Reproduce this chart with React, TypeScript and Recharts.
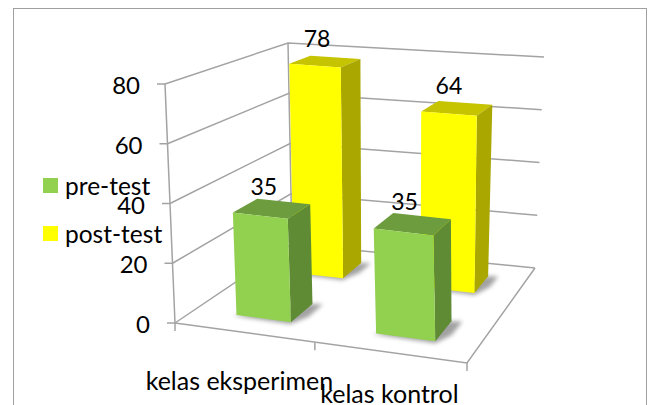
import React from "react";
import { BarChart, Bar, XAxis, YAxis, CartesianGrid, Legend, LabelList } from "recharts";

const categories = ["kelas eksperimen", "kelas kontrol"];
const preTest = [35, 35];
const postTest = [78, 64];
const valueTicks = [0, 20, 40, 60, 80];

const chartData = categories.map((name, i) => ({ name, pre: preTest[i], post: postTest[i] }));

const WIDTH = 648;
const HEIGHT = 405;
const MARGIN = 20;
const PLOT_H = HEIGHT - MARGIN * 2;
const BAR_W = WIDTH * 0.2;
const BAR_SHIFT = 0.008; // bars sit slightly right of the band centre
const FONT = "Lato, Carlito, sans-serif";

// corners of the 3D box on screen: front/back, left/right, floor/ceiling
const box = {
  floor: { fl: [175, 323], fr: [467, 363], bl: [292, 244], br: [535, 268] },
  top: { fl: [165, 84], fr: [461, 113], bl: [288, 43], br: [544, 57] },
};

const lerp = (a: number, b: number, t: number) => a + (b - a) * t;

// u = along the categories, v = depth, h = share of the value axis
const project = (uFlat: number, v: number, h: number): [number, number] => {
  // foreshortening: the left half of the floor looks shorter than the right
  const u = uFlat - 0.084 * uFlat * (1 - uFlat);
  const at = (k: 0 | 1) => {
    const lo = lerp(lerp(box.floor.fl[k], box.floor.fr[k], u), lerp(box.floor.bl[k], box.floor.br[k], u), v);
    const hi = lerp(lerp(box.top.fl[k], box.top.fr[k], u), lerp(box.top.bl[k], box.top.br[k], u), v);
    return lerp(lo, hi, h);
  };
  return [at(0), at(1)];
};

const toU = (px: number) => px / WIDTH;
const toH = (py: number) => (HEIGHT - MARGIN - py) / PLOT_H;
const pts = (list: [number, number][]) => list.map((p) => p.join(",")).join(" ");

// flat bar from the chart scales -> box with faces in the projection
const Bar3D = (props: any) => {
  const { x, y, width, height, near, far, front, side, top } = props;
  const u0 = toU(x) + BAR_SHIFT;
  const u1 = toU(x + width) + BAR_SHIFT;
  const h = toH(y);
  const h0 = toH(y + height);
  const shadow: [number, number][] = [
    project(u0 - 0.01, near - 0.01, h0),
    project(u1 + 0.005, near - 0.02, h0),
    project(u1 + 0.035, near + 0.08, h0),
    project(u1 + 0.035, far + 0.01, h0),
    project(u1, far, h0),
    project(u0, near, h0),
  ];
  return (
    <g>
      <polygon points={pts(shadow)} fill="#555" opacity={0.55} style={{ filter: "blur(2px)" }} />
      <polygon points={pts([project(u0, near, h), project(u1, near, h), project(u1, far, h), project(u0, far, h)])} fill={top} />
      <polygon points={pts([project(u1, near, h0), project(u1, far, h0), project(u1, far, h), project(u1, near, h)])} fill={side} />
      <polygon points={pts([project(u0, near, h0), project(u1, near, h0), project(u1, near, h), project(u0, near, h)])} fill={front} />
    </g>
  );
};

const valueLabel = (near: number, far: number) => (props: any) => {
  const { x, y, width, value } = props;
  const [cx, cy] = project(toU(x + width / 2) + BAR_SHIFT, (near + far) / 2, toH(y));
  return (
    <text x={cx - 8} y={cy - 14} textAnchor="middle" fontSize={23} fontFamily={FONT} fill="#000">
      {value}
    </text>
  );
};

const GRID = "#a3a3a3";

// each horizontal grid line runs along the left wall and then along the back wall
const gridLine = (props: any) => {
  const h = toH(props.y1);
  const a = project(0, 0, h);
  const b = project(0, 1, h);
  const c = project(1, 1, h);
  return (
    <g key={props.key ?? props.index} fill="none" stroke={GRID} strokeWidth={1.5}>
      <polyline points={pts([a, b, c])} />
      <line x1={a[0] - 8} y1={a[1]} x2={a[0]} y2={a[1]} />
      {h < 0.01 && (
        <>
          <polyline points={pts([project(0, 0, 0), project(1, 0, 0), project(1, 1, 0)])} />
          <polyline points={pts([project(0, 0, 0), project(0, 0, 1)])} />
          <polyline points={pts([project(0, 1, 0), project(0, 1, 1)])} />
          {[0, 0.5, 1].map((u) => {
            const p = project(u, 0, 0);
            return <line key={u} x1={p[0]} y1={p[1]} x2={p[0]} y2={p[1] + 8} />;
          })}
        </>
      )}
    </g>
  );
};

const yTick = (props: any) => {
  const [px, py] = project(0, 0, toH(props.y));
  return (
    <text x={px - 25} y={py + 10} textAnchor="end" fontSize={24} fontFamily={FONT} fill="#000">
      {props.payload.value}
    </text>
  );
};

// Excel staggered these two labels because they did not fit
const labelShift = [
  [-4, 58],
  [0, 51],
];

const xTick = (props: any) => {
  const [px, py] = project(toU(props.x), 0, 0);
  const [dx, dy] = labelShift[props.index] ?? [0, 0];
  return (
    <text x={px + dx} y={py + dy} textAnchor="middle" fontSize={25} fontFamily={FONT} fill="#000">
      {props.payload.value}
    </text>
  );
};

const renderLegend = (props: any) => {
  const items = [...(props.payload ?? [])].reverse();
  return (
    <div style={{ fontFamily: FONT, fontSize: 24.5, color: "#000" }}>
      {items.map((it: any) => (
        <div key={it.value} style={{ display: "flex", alignItems: "center", height: 48 }}>
          <span style={{ width: 15, height: 15, background: it.color, marginRight: 7 }} />
          {it.value}
        </div>
      ))}
    </div>
  );
};

const PRE_DEPTH = { near: 0.17, far: 0.385 };
const POST_DEPTH = { near: 0.69, far: 0.87 };

export default function App() {
  return (
    <div style={{ position: "absolute", left: 0, top: 0, width: WIDTH, height: HEIGHT, overflow: "hidden", background: "#fff" }}>
      <div style={{ position: "absolute", left: 15, top: -29, fontFamily: "'Liberation Serif', serif", fontSize: 30, lineHeight: "36px", color: "#000", whiteSpace: "nowrap" }}>
        dibawah ini.
      </div>
      <div style={{ position: "absolute", left: 13, top: 8, width: 632, height: 420, border: "1.5px solid #a0a0a0" }} />
      <BarChart
        width={WIDTH}
        height={HEIGHT}
        data={chartData}
        margin={{ top: MARGIN, bottom: MARGIN - 1, left: -1, right: 0 }}
        barSize={BAR_W}
        barGap={-BAR_W}
        style={{ position: "absolute", left: 0, top: 0 }}
      >
        <CartesianGrid vertical={false} horizontal={gridLine} />
        <XAxis dataKey="name" height={1} axisLine={false} tickLine={false} tick={xTick} interval={0} />
        <YAxis width={1} domain={[0, 80]} ticks={valueTicks} axisLine={false} tickLine={false} tick={yTick} />
        <Legend
          content={renderLegend}
          layout="vertical"
          align="center"
          verticalAlign="middle"
          wrapperStyle={{ left: 43, top: 161, width: 130 }}
        />
        <Bar
          dataKey="post"
          name="post-test"
          fill="#ffff00"
          isAnimationActive={false}
          shape={(p: any) => <Bar3D {...p} {...POST_DEPTH} front="#ffff00" side="#aaa700" top="#c6c300" />}
        >
          <LabelList dataKey="post" content={valueLabel(POST_DEPTH.near, POST_DEPTH.far)} />
        </Bar>
        <Bar
          dataKey="pre"
          name="pre-test"
          fill="#92d050"
          isAnimationActive={false}
          shape={(p: any) => <Bar3D {...p} {...PRE_DEPTH} front="#92d050" side="#5f8b35" top="#6c9c3e" />}
        >
          <LabelList dataKey="pre" content={valueLabel(PRE_DEPTH.near, PRE_DEPTH.far)} />
        </Bar>
      </BarChart>
    </div>
  );
}
